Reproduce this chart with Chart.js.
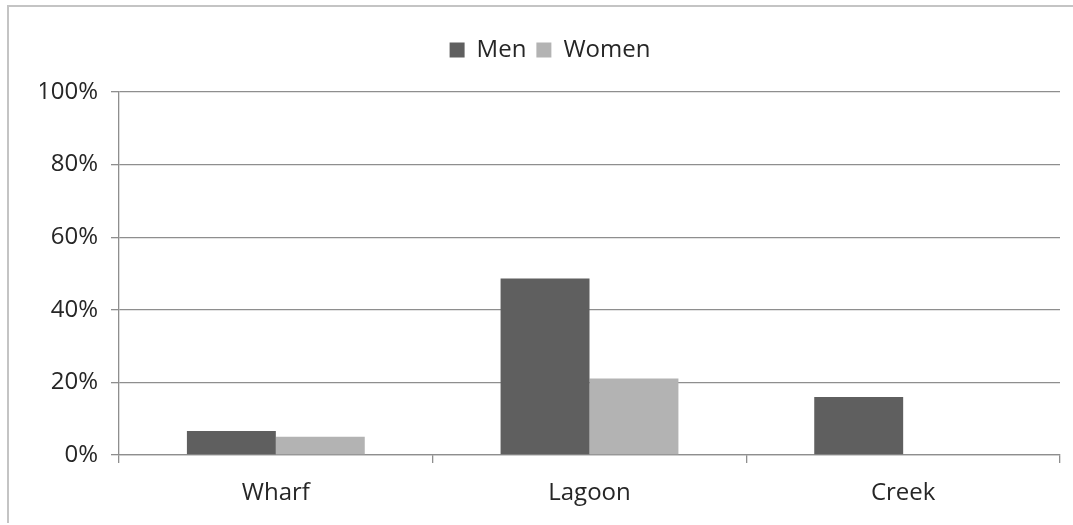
<!DOCTYPE html>
<html>
<head>
<meta charset="utf-8">
<script src="https://cdn.jsdelivr.net/npm/chart.js@4/dist/chart.umd.min.js"></script>
<style>
  html, body { margin: 0; padding: 0; background: #ffffff; }
  #wrap { width: 1073px; height: 525px; position: relative; }
</style>
</head>
<body>
<div id="wrap"><canvas id="chart"></canvas></div>
<script>
// Share of respondents by site, in percent
const sites = ['Wharf', 'Lagoon', 'Creek'];
const men = [6.6, 48.6, 16.0];
const women = [5.0, 21.1, 0];
const yTicks = [0, 20, 40, 60, 80, 100];

const FONT = '"Open Sans", "Liberation Sans", sans-serif';
const FONT_SIZE = 24;
const TEXT = '#262626';
const GRID = '#8e8e8e';

// Light frame around the whole chart object
const framePlugin = {
  id: 'frame',
  beforeDraw(chart) {
    const c = chart.ctx;
    c.save();
    c.fillStyle = '#ffffff';
    c.fillRect(0, 0, chart.width, chart.height);
    c.strokeStyle = '#c4c4c4';
    c.lineWidth = 2;
    c.beginPath();
    c.moveTo(8, chart.height - 2);
    c.lineTo(8, 6);
    c.lineTo(chart.width, 6);
    c.stroke();
    c.restore();
  }
};

// Extra room between the legend and the plot area
const legendGapPlugin = {
  id: 'legendGap',
  beforeInit(chart) {
    const fit = chart.legend.fit;
    chart.legend.fit = function () {
      fit.call(this);
      this.height += 20;
    };
  }
};

new Chart(document.getElementById('chart'), {
  type: 'bar',
  data: {
    labels: sites,
    datasets: [
      { label: 'Men', data: men, backgroundColor: '#5f5f5f', borderWidth: 0 },
      { label: 'Women', data: women, backgroundColor: '#b3b3b3', borderWidth: 0 }
    ]
  },
  plugins: [framePlugin, legendGapPlugin],
  options: {
    responsive: true,
    maintainAspectRatio: false,
    animation: false,
    events: [],
    layout: { padding: { top: 28, right: 13, bottom: 0, left: 40 } },
    datasets: { bar: { categoryPercentage: 0.567, barPercentage: 1.0 } },
    plugins: {
      tooltip: { enabled: false },
      legend: {
        position: 'top',
        align: 'center',
        labels: {
          font: { family: FONT, size: FONT_SIZE },
          color: TEXT,
          boxWidth: 15,
          boxHeight: 15,
          padding: 10
        }
      }
    },
    scales: {
      x: {
        offset: true,
        afterFit(scale) { scale.height = 70; },
        grid: {
          offset: true,
          drawOnChartArea: true,
          color: (ctx) => (ctx.index === sites.length ? GRID : 'rgba(0,0,0,0)'),
          tickColor: GRID,
          tickLength: 8,
          lineWidth: 1.3
        },
        border: { display: true, color: GRID, width: 1.3 },
        ticks: {
          font: { family: FONT, size: FONT_SIZE },
          color: TEXT,
          padding: 16
        }
      },
      y: {
        min: 0,
        max: 100,
        afterFit(scale) { scale.width = 79; },
        afterBuildTicks(scale) { scale.ticks = yTicks.map(v => ({ value: v })); },
        grid: {
          color: GRID,
          tickColor: GRID,
          tickLength: 8,
          lineWidth: 1.3
        },
        border: { display: true, color: GRID, width: 1.3 },
        ticks: {
          font: { family: FONT, size: FONT_SIZE },
          color: TEXT,
          padding: 13,
          callback: (v) => v + '%'
        }
      }
    }
  }
});
</script>
</body>
</html>
